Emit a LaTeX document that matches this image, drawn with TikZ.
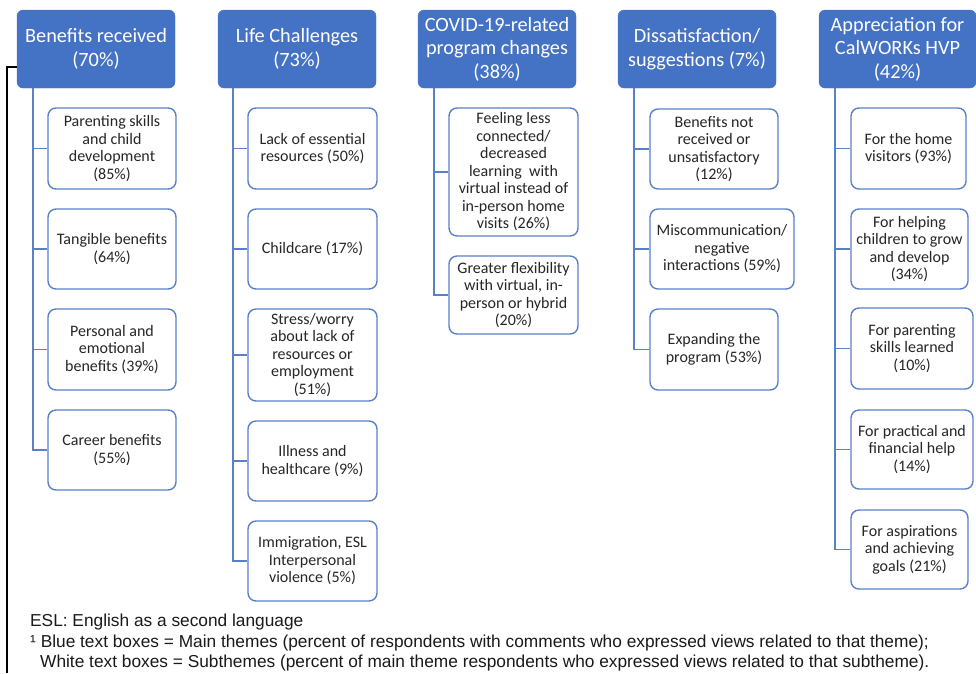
\documentclass[tikz,border=0pt]{standalone}
\usepackage{fontspec}
\setmainfont{Carlito}
\newfontfamily\arialf{Liberation Sans}
\definecolor{hblue}{HTML}{4472C4}
\definecolor{bblue}{HTML}{5B80C8}
\newcommand{\bx}[7]{\node[#1, minimum width={#5pt-#3pt}, minimum height={#6pt-#4pt}] (#2) at ({(#3+#5)/2},{(#4+#6)/2}) {#7};}
\begin{document}
\begin{tikzpicture}[x=1pt,y=-1pt,
  hdr/.style={fill=hblue, draw=hblue, rounded corners=6pt, text=white, font=\fontsize{20.3}{23.5}\selectfont, align=center, inner sep=0pt},
  sub/.style={draw=bblue, line width=1.4pt, fill=white, rounded corners=8pt, font=\fontsize{16}{17.5}\selectfont, align=center, inner sep=0pt, text=black!85},
  conn/.style={draw=bblue, line width=1.8pt},
  note/.style={font=\arialf\fontsize{17.3}{20}\selectfont, anchor=base west, inner sep=0pt, text=black!90}]
\useasboundingbox (0,0) rectangle (976,673);
% headers
\bx{hdr}{h1}{17}{10}{175}{88}{Benefits received\\(70\%)}
\bx{hdr}{h2}{218}{10}{376}{88}{Life Challenges\\(73\%)}
\bx{hdr}{h3}{418}{10}{576}{88}{COVID-19-related\\program changes\\(38\%)}
\bx{hdr}{h4}{618}{10}{776}{88}{Dissatisfaction/\\suggestions (7\%)}
\bx{hdr}{h5}{819}{10}{976}{88}{Appreciation for\\CalWORKs HVP\\(42\%)}
% column 1
\bx{sub}{a1}{48}{108}{176}{189}{Parenting skills\\and child\\development\\(85\%)}
\bx{sub}{a2}{48}{209}{176}{289}{Tangible benefits\\(64\%)}
\bx{sub}{a3}{48}{309}{176}{390}{Personal and\\emotional\\benefits (39\%)}
\bx{sub}{a4}{48}{410}{176}{490}{Career benefits\\(55\%)}
% column 2
\bx{sub}{b1}{248}{108}{377}{189}{Lack of essential\\resources (50\%)}
\bx{sub}{b2}{248}{209}{377}{289}{Childcare (17\%)}
\bx{sub}{b3}{248}{309}{377}{401}{Stress/worry\\about lack of\\resources or\\employment\\(51\%)}
\bx{sub}{b4}{248}{421}{377}{501}{Illness and\\healthcare (9\%)}
\bx{sub}{b5}{248}{521}{377}{601}{Immigration, ESL\\Interpersonal\\violence (5\%)}
% column 3
\bx{sub}{c1}{449}{108}{578}{236}{Feeling less\\connected/\\decreased\\learning\ \ with\\virtual instead of\\in-person home\\visits (26\%)}
\bx{sub}{c2}{449}{256}{578}{334}{Greater flexibility\\with virtual, in-\\person or hybrid\\(20\%)}
% column 4
\bx{sub}{d1}{650}{109}{778}{189}{Benefits not\\received or\\unsatisfactory\\(12\%)}
\bx{sub}{d2}{650}{209}{794}{289}{Miscommunication/\\negative\\interactions (59\%)}
\bx{sub}{d3}{650}{309}{778}{390}{Expanding the\\program (53\%)}
% column 5
\bx{sub}{e1}{851}{108}{966}{189}{For the home\\visitors (93\%)}
\bx{sub}{e2}{851}{209}{968}{289}{For helping\\children to grow\\and develop\\(34\%)}
\bx{sub}{e3}{851}{308}{973}{389}{For parenting\\skills learned\\(10\%)}
\bx{sub}{e4}{851}{410}{973}{489}{For practical and\\financial help\\(14\%)}
\bx{sub}{e5}{851}{510}{968}{589}{For aspirations\\and achieving\\goals (21\%)}
% trunks
\coordinate (t1) at (33,88);
\coordinate (t2) at (233,88);
\coordinate (t3) at (434,88);
\coordinate (t4) at (634,88);
\coordinate (t5) at (835,88);
\draw[conn] (t1) |- (a4.west);
\foreach \n in {a1,a2,a3} \draw[conn] (\n.west) -- (\n.west -| t1);
\draw[conn] (t2) |- (b5.west);
\foreach \n in {b1,b2,b3,b4} \draw[conn] (\n.west) -- (\n.west -| t2);
\draw[conn] (t3) |- (c2.west);
\draw[conn] (c1.west) -- (c1.west -| t3);
\draw[conn] (t4) |- (d3.west);
\foreach \n in {d1,d2} \draw[conn] (\n.west) -- (\n.west -| t4);
\draw[conn] (t5) |- (e5.west);
\foreach \n in {e1,e2,e3,e4} \draw[conn] (\n.west) -- (\n.west -| t5);
% black bracket line
\coordinate (bl) at (7,673);
\draw[black, line width=1.1pt] (bl) |- ([yshift=-18pt]h1.west);
% notes
\node[note] (n1) at (30,626) {ESL: English as a second language};
\node[note] (n2) at (30,647) {¹ Blue text boxes = Main themes (percent of respondents with comments who expressed views related to that theme);};
\node[note] (n3) at (40,667) {White text boxes = Subthemes (percent of main theme respondents who expressed views related to that subtheme).};
\end{tikzpicture}
\end{document}
